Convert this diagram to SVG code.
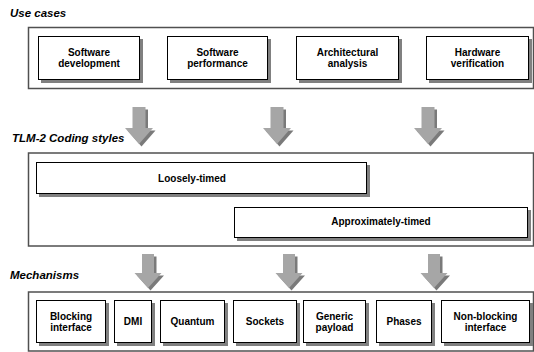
<svg xmlns="http://www.w3.org/2000/svg" width="534" height="352" viewBox="0 0 534 352">
<style>
.title{font-family:"Liberation Sans",Arial,sans-serif;font-weight:bold;font-style:italic;font-size:11.5px;fill:#000}
.lbl{font-family:"Liberation Sans",Arial,sans-serif;font-weight:bold;font-size:10px;fill:#000;text-anchor:middle}
.outer{fill:#fff;stroke:#505050;stroke-width:1.5}
.box{fill:#fff;stroke:#000;stroke-width:1}
.shd{fill:#808080}
.arr{fill:#a6a6a6}
.arrs{fill:#7a7a7a}
</style>
<defs>
<path id="a1" d="M-6.5,0 H6.5 V21 H14 L0,37 L-14,21 H-6.5 Z"/>
<path id="a2" d="M-6,0 H6 V19 H13.5 L0,34 L-13.5,19 H-6 Z"/>
</defs>
<rect width="534" height="352" fill="#fff"/>

<text class="title" x="10" y="17">Use cases</text>
<text class="title" x="12" y="142">TLM-2 Coding styles</text>
<text class="title" x="10" y="279">Mechanisms</text>

<g id="usecases">
<rect class="outer" x="28.5" y="27.5" width="505" height="61"/>
</g>
<g id="sw-dev">
<rect class="shd" x="41" y="39" width="102" height="44"/>
<rect class="box" x="38.5" y="36.5" width="101" height="43"/>
<text class="lbl" x="89" y="55.5">Software</text>
<text class="lbl" x="89" y="66.5">development</text>
</g>
<g id="sw-perf">
<rect class="shd" x="170" y="39" width="101" height="44"/>
<rect class="box" x="167.5" y="36.5" width="100" height="43"/>
<text class="lbl" x="217.5" y="55.5">Software</text>
<text class="lbl" x="217.5" y="66.5">performance</text>
</g>
<g id="arch">
<rect class="shd" x="299" y="39" width="103" height="44"/>
<rect class="box" x="296.5" y="36.5" width="102" height="43"/>
<text class="lbl" x="347.5" y="55.5">Architectural</text>
<text class="lbl" x="347.5" y="66.5">analysis</text>
</g>
<g id="hw-ver">
<rect class="shd" x="429" y="39" width="103" height="44"/>
<rect class="box" x="426.5" y="36.5" width="102" height="43"/>
<text class="lbl" x="477.5" y="55.5">Hardware</text>
<text class="lbl" x="477.5" y="66.5">verification</text>
</g>

<g id="styles">
<rect class="outer" x="28.5" y="153" width="505" height="93"/>
</g>
<g id="lt">
<rect class="shd" x="39" y="165" width="331" height="32"/>
<rect class="box" x="36.5" y="162.5" width="330" height="31"/>
<text class="lbl" x="192" y="181.5">Loosely-timed</text>
</g>
<g id="at">
<rect class="shd" x="237" y="210" width="294" height="31"/>
<rect class="box" x="234.5" y="207.5" width="293" height="30"/>
<text class="lbl" x="381" y="225">Approximately-timed</text>
</g>

<g id="mechanisms">
<rect class="outer" x="28.5" y="292" width="505" height="59"/>
</g>
<g id="blocking">
<rect class="shd" x="39" y="303" width="70" height="43"/>
<rect class="box" x="36.5" y="300.5" width="69" height="42"/>
<text class="lbl" x="71" y="319.5">Blocking</text>
<text class="lbl" x="71" y="330.5">interface</text>
</g>
<g id="dmi">
<rect class="shd" x="117" y="303" width="38" height="43"/>
<rect class="box" x="114.5" y="300.5" width="37" height="42"/>
<text class="lbl" x="133" y="325">DMI</text>
</g>
<g id="quantum">
<rect class="shd" x="163" y="303" width="65" height="43"/>
<rect class="box" x="160.5" y="300.5" width="64" height="42"/>
<text class="lbl" x="192.5" y="325">Quantum</text>
</g>
<g id="sockets">
<rect class="shd" x="236" y="303" width="64" height="43"/>
<rect class="box" x="233.5" y="300.5" width="63" height="42"/>
<text class="lbl" x="265" y="325">Sockets</text>
</g>
<g id="payload">
<rect class="shd" x="306" y="303" width="63" height="43"/>
<rect class="box" x="303.5" y="300.5" width="62" height="42"/>
<text class="lbl" x="334.5" y="319.5">Generic</text>
<text class="lbl" x="334.5" y="330.5">payload</text>
</g>
<g id="phases">
<rect class="shd" x="379" y="303" width="56" height="43"/>
<rect class="box" x="376.5" y="300.5" width="55" height="42"/>
<text class="lbl" x="404" y="325">Phases</text>
</g>
<g id="nonblocking">
<rect class="shd" x="444" y="303" width="89" height="43"/>
<rect class="box" x="441.5" y="300.5" width="88" height="42"/>
<text class="lbl" x="485.5" y="319.5">Non-blocking</text>
<text class="lbl" x="485.5" y="330.5">interface</text>
</g>

<g id="connectors">
<use href="#a1" class="arrs" x="141.5" y="109.5"/>
<use href="#a1" class="arr" x="139" y="107"/>
<use href="#a1" class="arrs" x="279.5" y="109.5"/>
<use href="#a1" class="arr" x="277" y="107"/>
<use href="#a1" class="arrs" x="430.5" y="109.5"/>
<use href="#a1" class="arr" x="428" y="107"/>
<use href="#a2" class="arrs" x="150.5" y="256.5"/>
<use href="#a2" class="arr" x="148" y="254"/>
<use href="#a2" class="arrs" x="291.5" y="256.5"/>
<use href="#a2" class="arr" x="289" y="254"/>
<use href="#a2" class="arrs" x="436.5" y="256.5"/>
<use href="#a2" class="arr" x="434" y="254"/>
</g>
</svg>
